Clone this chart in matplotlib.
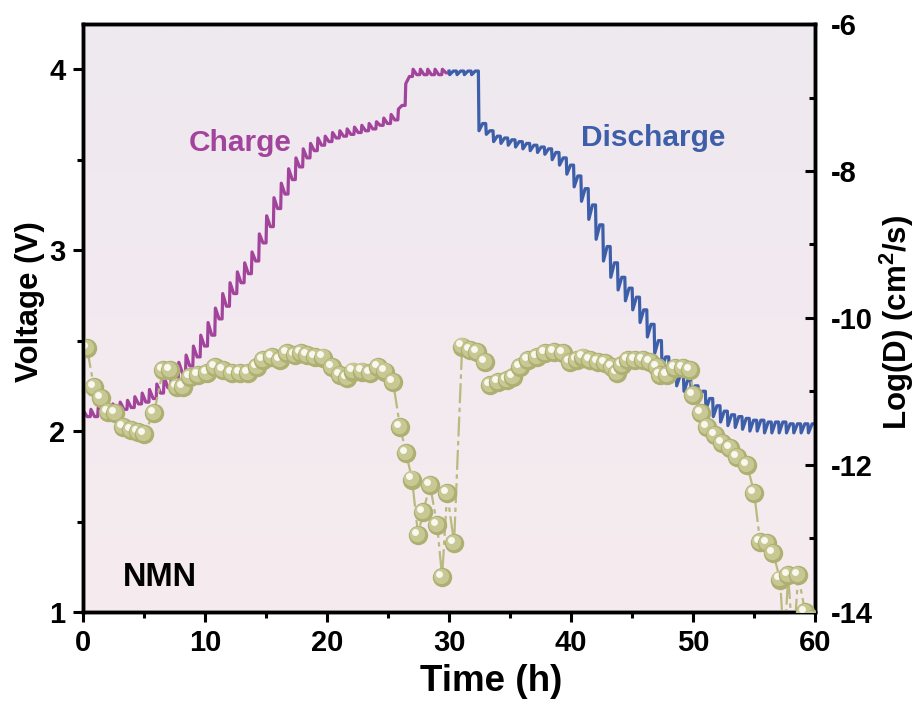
import numpy as np
import matplotlib
matplotlib.use('Agg')
import matplotlib.pyplot as plt
from matplotlib.colors import LinearSegmentedColormap
from matplotlib.transforms import offset_copy
from matplotlib.ticker import MultipleLocator

plt.rcParams['font.family'] = ['Liberation Sans', 'DejaVu Sans']
plt.rcParams['font.weight'] = 'bold'
plt.rcParams['axes.unicode_minus'] = False
plt.rcParams['mathtext.fontset'] = 'custom'
plt.rcParams['mathtext.rm'] = 'Liberation Sans:bold'
plt.rcParams['mathtext.bf'] = 'Liberation Sans:bold'

# ---------------- GITT voltage profile ----------------
# pulse start times (h), rest voltage before each pulse, voltage at the end of each pulse
charge_t = [0.0, 0.6, 1.2, 1.8, 2.4, 3.0, 3.6, 4.2, 4.8, 5.4,
            6.0, 6.6, 7.2, 7.8, 8.4, 9.0, 9.6, 10.2, 10.8, 11.4,
            12.0, 12.6, 13.2, 13.8, 14.4, 15.0, 15.6, 16.2, 16.8, 17.4,
            18.0, 18.6, 19.2, 19.8, 20.4, 21.0, 21.6, 22.2, 22.8, 23.4,
            24.0, 24.6, 25.2, 25.8, 26.4, 27.0, 27.6, 28.2, 28.8, 29.4]
charge_rest = [2.07, 2.08, 2.08, 2.09, 2.10, 2.11, 2.12, 2.13, 2.15, 2.16,
               2.18, 2.21, 2.24, 2.28, 2.32, 2.36, 2.41, 2.47, 2.53, 2.62,
               2.69, 2.76, 2.82, 2.87, 2.94, 3.04, 3.13, 3.23, 3.31, 3.39,
               3.46, 3.51, 3.55, 3.58, 3.60, 3.62, 3.63, 3.64, 3.65, 3.66,
               3.67, 3.69, 3.70, 3.72, 3.80, 3.96, 3.97, 3.97, 3.97, 3.97]
charge_peak = [2.11, 2.12, 2.13, 2.14, 2.15, 2.16, 2.17, 2.19, 2.21, 2.23,
               2.26, 2.30, 2.33, 2.38, 2.42, 2.47, 2.53, 2.60, 2.68, 2.76,
               2.82, 2.88, 2.93, 2.99, 3.09, 3.19, 3.29, 3.37, 3.45, 3.51,
               3.56, 3.59, 3.62, 3.63, 3.65, 3.66, 3.67, 3.68, 3.69, 3.70,
               3.71, 3.73, 3.75, 3.78, 3.92, 4.00, 4.00, 4.00, 4.00, 4.00]
charge_end = (30.0, 3.98)

discharge_t = [30.0, 30.6, 31.2, 31.8, 32.4, 33.0, 33.6, 34.2, 34.8, 35.4,
               36.0, 36.6, 37.2, 37.8, 38.4, 39.0, 39.6, 40.2, 40.8, 41.4,
               42.0, 42.6, 43.2, 43.8, 44.4, 45.0, 45.6, 46.2, 46.8, 47.4,
               48.0, 48.6, 49.2, 49.8, 50.4, 51.0, 51.6, 52.2, 52.8, 53.4,
               54.0, 54.6, 55.2, 55.8, 56.4, 57.0, 57.6, 58.2, 58.8, 59.4]
discharge_rest = [3.99, 3.99, 3.99, 3.99, 3.99, 3.70, 3.66, 3.63, 3.62, 3.61,
                  3.60, 3.59, 3.58, 3.57, 3.56, 3.54, 3.51, 3.47, 3.41, 3.34,
                  3.25, 3.14, 3.02, 2.93, 2.85, 2.79, 2.74, 2.67, 2.59, 2.50,
                  2.41, 2.35, 2.31, 2.28, 2.25, 2.22, 2.18, 2.14, 2.11, 2.09,
                  2.08, 2.07, 2.06, 2.06, 2.05, 2.05, 2.05, 2.04, 2.04, 2.04]
discharge_dip = [3.97, 3.97, 3.97, 3.97, 3.66, 3.64, 3.60, 3.59, 3.58, 3.57,
                 3.56, 3.55, 3.54, 3.53, 3.50, 3.47, 3.42, 3.35, 3.27, 3.17,
                 3.06, 2.94, 2.85, 2.78, 2.72, 2.67, 2.60, 2.52, 2.43, 2.35,
                 2.29, 2.25, 2.22, 2.19, 2.16, 2.12, 2.08, 2.05, 2.03, 2.02,
                 2.01, 2.00, 2.00, 1.99, 1.99, 1.99, 1.99, 1.99, 1.99, 1.99]
discharge_end = (60.0, 2.04)

# ---------------- diffusion coefficient ----------------
logd_t = [0.33, 0.90, 1.48, 2.05, 2.62, 3.28, 3.93, 4.51, 5.00, 5.82,
          6.56, 7.13, 7.70, 8.20, 8.77, 9.43, 10.16, 10.82, 11.48, 12.21,
          12.87, 13.52, 14.26, 14.75, 15.49, 16.15, 16.72, 17.38, 17.87, 18.36,
          19.02, 19.67, 20.41, 21.07, 21.64, 22.13, 22.87, 23.52, 24.18, 24.75,
          25.41, 25.98, 26.48, 26.97, 27.46, 27.87, 28.44, 29.02, 29.43, 29.84,
          30.41,
          31.07, 31.72, 32.30, 32.95, 33.36, 34.02, 34.75, 35.25, 35.82, 36.48,
          37.21, 37.87, 38.61, 39.34, 39.92, 40.49, 40.98, 41.56, 42.21, 42.79,
          43.36, 43.77, 44.18, 44.67, 45.25, 45.90, 46.48, 47.05, 47.30, 47.87,
          48.52, 49.18, 49.75, 50.00, 50.66, 51.15, 51.80, 52.38, 53.03, 53.61,
          54.43, 55.00, 55.49, 56.07, 56.56, 57.13, 57.45, 57.79, 58.20, 58.61,
          59.18, 59.70]
logd = [-10.41, -10.94, -11.09, -11.28, -11.29, -11.48, -11.52, -11.55, -11.58, -11.29,
        -10.71, -10.71, -10.94, -10.94, -10.80, -10.78, -10.75, -10.67, -10.71, -10.75,
        -10.75, -10.75, -10.67, -10.57, -10.53, -10.57, -10.48, -10.50, -10.48, -10.50,
        -10.53, -10.54, -10.67, -10.78, -10.82, -10.73, -10.73, -10.75, -10.67, -10.73,
        -10.87, -11.48, -11.84, -12.20, -12.95, -12.64, -12.27, -12.82, -13.52, -12.38,
        -13.06,
        -10.39, -10.44, -10.46, -10.60, -10.91, -10.87, -10.84, -10.80, -10.67, -10.57,
        -10.53, -10.48, -10.46, -10.48, -10.60, -10.57, -10.54, -10.57, -10.60, -10.61,
        -10.67, -10.75, -10.64, -10.57, -10.57, -10.57, -10.60, -10.67, -10.78, -10.78,
        -10.68, -10.68, -10.71, -11.05, -11.29, -11.48, -11.59, -11.70, -11.77, -11.89,
        -12.00, -12.38, -13.05, -13.06, -13.20, -13.56, -14.50, -13.50, -14.50, -13.50,
        -14.00, -14.10]

x_ticks = [0, 10, 20, 30, 40, 50, 60]
v_ticks = [1, 2, 3, 4]
d_ticks = [-14, -12, -10, -8, -6]

CHARGE_COLOR = '#a3449c'
DISCHARGE_COLOR = '#3d5ea9'


def gitt_path(t, rest, extreme, end):
    """Polyline of a GITT staircase: sharp pulse to the extreme, then a
    sloped relaxation onto the next rest voltage."""
    xs, ys = [], []
    n = len(t)
    for i in range(n):
        nxt = rest[i + 1] if i + 1 < n else end[1]
        xs += [t[i], t[i] + 0.05, t[i] + 0.35]
        ys += [rest[i], extreme[i], nxt]
    xs.append(end[0])
    ys.append(end[1])
    return xs, ys


fig = plt.figure(figsize=(9.21, 7.04), dpi=100)
ax = fig.add_axes([0.0901, 0.1307, 0.7950, 0.8352])
ax2 = ax.twinx()

# soft background gradient of the plotting area
bg = LinearSegmentedColormap.from_list('bg', ['#f6ecef', '#eee8ef'])
ax.imshow(np.linspace(0, 1, 256).reshape(-1, 1), cmap=bg, origin='lower',
          extent=[0, 1, 0, 1], transform=ax.transAxes, aspect='auto', zorder=0)

cx, cy = gitt_path(charge_t, charge_rest, charge_peak, charge_end)
dx, dy = gitt_path(discharge_t, discharge_rest, discharge_dip, discharge_end)
ax.plot(cx, cy, color=CHARGE_COLOR, lw=2.3, solid_joinstyle='round', zorder=2)
ax.plot(dx, dy, color=DISCHARGE_COLOR, lw=2.3, solid_joinstyle='round', zorder=2)

ax.set_xlim(0, 60)
ax.set_ylim(1, 4.25)
ax.set_xticks(x_ticks)
ax.set_yticks(v_ticks)
ax.xaxis.set_minor_locator(MultipleLocator(5))
ax.yaxis.set_minor_locator(MultipleLocator(0.5))

# diffusion coefficient: dash-dot guide plus shaded spheres
ax2.plot(logd_t, logd, color='#b8ba80', lw=1.6, dashes=(9, 2, 2, 2), zorder=1)
off_mid = offset_copy(ax2.transData, fig=fig, x=-1.2, y=1.2, units='dots')
off_hi = offset_copy(ax2.transData, fig=fig, x=-3.2, y=3.2, units='dots')
z = 2
for t, d in zip(logd_t, logd):
    ax2.plot(t, d, 'o', ms=14, color='#aeb072', mec='none', zorder=z)
    ax2.plot(t, d, 'o', ms=11, color='#c7c894', mec='none', zorder=z + 0.1,
             transform=off_mid)
    ax2.plot(t, d, 'o', ms=5, color='#f8f8ee', mec='none', zorder=z + 0.2,
             transform=off_hi)
    z += 0.5
ax2.set_ylim(-14, -6)
ax2.set_yticks(d_ticks)
ax2.yaxis.set_minor_locator(MultipleLocator(1))

# text annotations
ax.text(12.9, 3.59, 'Charge', color=CHARGE_COLOR, fontsize=21.5,
        fontweight='bold', ha='center', va='center', zorder=5)
ax.text(46.7, 3.62, 'Discharge', color=DISCHARGE_COLOR, fontsize=21.5,
        fontweight='bold', ha='center', va='center', zorder=5)
ax.text(6.3, 1.19, 'NMN', color='black', fontsize=23.5,
        fontweight='bold', ha='center', va='center', zorder=5)

ax.set_xlabel('Time (h)', fontsize=26.5, fontweight='bold')
ax.xaxis.set_label_coords(0.557, -0.088)
ax.set_ylabel('Voltage (V)', fontsize=22.5, fontweight='bold')
ax.yaxis.set_label_coords(-0.052, 0.527)
ax2.set_ylabel(r'Log(D) (cm$^{\mathbf{2}}$/s)', fontsize=22.5, fontweight='bold')
ax2.yaxis.set_label_coords(1.086, 0.493)

for a in (ax, ax2):
    for s in a.spines.values():
        s.set_linewidth(2.5)
        s.set_zorder(10)
    a.set_facecolor('none')

ax.tick_params(axis='both', which='major', direction='out', length=7.5,
               width=2.2, labelsize=21, pad=5)
ax.tick_params(axis='both', which='minor', direction='out', length=4.5,
               width=2.2)
ax.tick_params(axis='y', right=False)
ax2.tick_params(axis='y', which='major', direction='in', length=7.5,
                width=2.2, labelsize=21, pad=11)
ax2.tick_params(axis='y', which='minor', direction='in', length=4.5, width=2.2)

for lab in ax.get_xticklabels() + ax.get_yticklabels() + ax2.get_yticklabels():
    lab.set_fontweight('bold')

fig.savefig('out.png', dpi=100, facecolor='white')
